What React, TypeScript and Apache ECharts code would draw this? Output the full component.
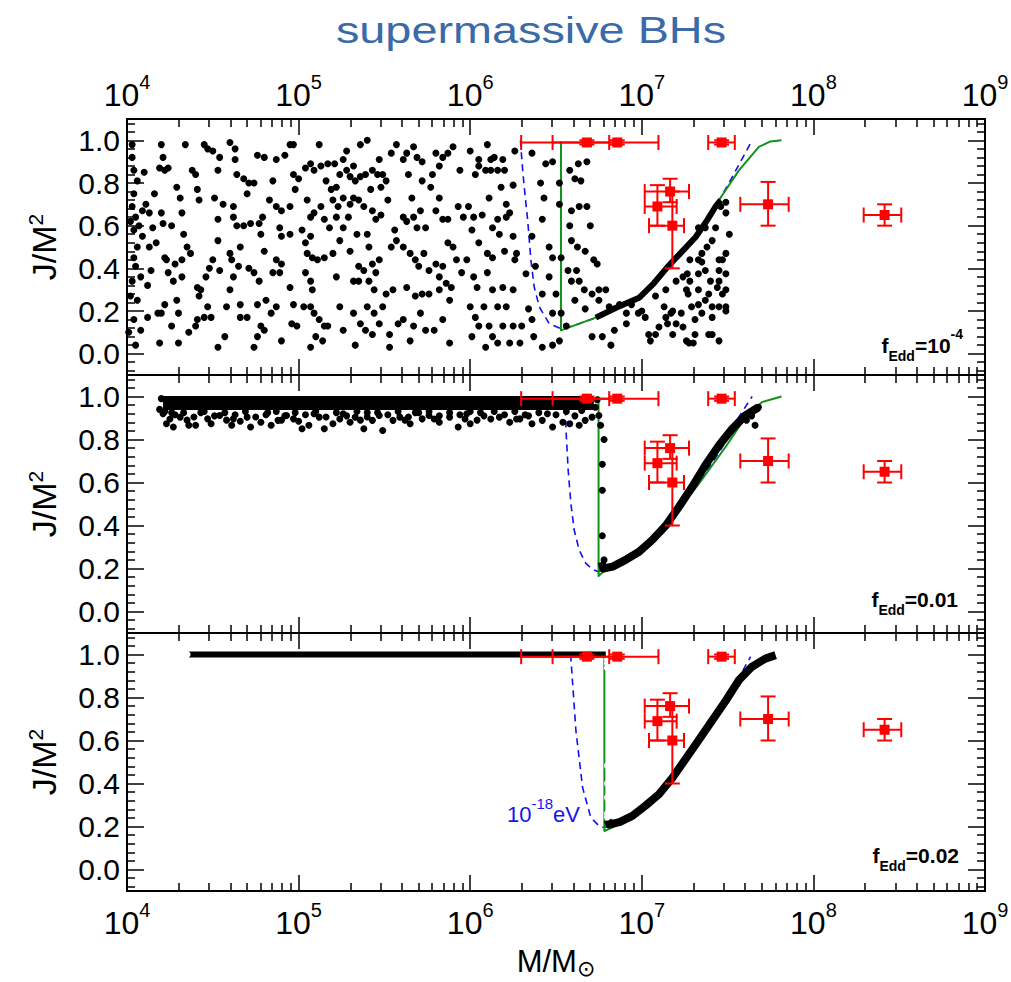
import React, { useEffect, useRef } from 'react';
import * as echarts from 'echarts';

const FONT = '"Liberation Sans", Arial, Helvetica, sans-serif';

// ---- axis ticks (x values are log10 of M/Msun) ----
const xDecades = [4, 5, 6, 7, 8, 9];
const yTickLabels = [0, 0.2, 0.4, 0.6, 0.8, 1.0];

// ---- panel 1 (fEdd = 1e-4): scattered black points [log10 M, J/M^2] ----
const topDots: number[][] = [
  [4.03,.98],[4.03,.92],[4.04,.86],[4.06,.81],[4.04,.75],[4.03,.69],[4.05,.64],[4.04,.58],[4.06,.50],[4.04,.45],[4.05,.41],[4.03,.34],[4.06,.25],[4.04,.16],[4.08,.11],[4.05,.04],[4.10,.85],[4.11,.70],[4.13,.66],[4.15,.59],[4.13,.50],[4.14,.39],[4.12,.17],[4.16,.75],[4.17,.52],[4.18,.19],[4.02,.62],[4.07,.60],[4.09,.67],[4.02,.27],[4.08,.36],[4.01,.10],[4.09,.55],[4.12,.32],
  [4.20,.98],[4.21,.92],[4.19,.87],[4.22,.86],[4.24,.87],[4.20,.66],[4.21,.61],[4.26,.60],[4.23,.44],[4.22,.45],[4.24,.38],[4.27,.34],[4.22,.23],[4.20,.19],[4.29,.25],[4.30,.19],[4.30,.05],[4.19,.05],[4.29,.78],[4.31,.73],[4.32,.66],[4.33,.56],[4.32,.44],[4.32,.36],[4.34,.98],[4.35,.50],[4.37,.47],[4.38,.86],[4.40,.84],[4.41,.77],[4.42,.72],[4.41,.31],[4.42,.27],[4.41,.16],[4.40,.13],[4.36,.10],[4.26,.13],[4.28,.42],
  [4.45,.98],[4.47,.96],[4.50,.95],[4.53,.86],[4.54,.92],[4.60,.99],[4.63,.96],[4.51,.73],[4.53,.63],[4.56,.70],[4.53,.53],[4.50,.44],[4.48,.40],[4.54,.39],[4.46,.36],[4.43,.30],[4.47,.22],[4.49,.17],[4.53,.03],[4.58,.22],[4.60,.30],[4.62,.36],[4.57,.08],[4.45,.17],[4.61,.44],[4.60,.47],[4.62,.64],
  [4.63,.91],[4.64,.84],[4.68,.82],[4.70,.75],[4.71,.80],[4.62,.69],[4.64,.60],[4.68,.60],[4.72,.61],[4.77,.61],[4.78,.56],[4.79,.64],[4.66,.50],[4.65,.41],[4.71,.40],[4.74,.38],[4.77,.34],[4.80,.48],[4.66,.23],[4.66,.17],[4.70,.17],[4.76,.23],[4.78,.13],[4.80,.11],[4.74,.03],[4.76,.08],[4.81,.25],[4.80,.92],[4.76,.93],[4.74,.80],
  [4.85,.81],[4.87,.91],[4.92,.93],[4.95,.98],[4.97,.98],[4.83,.72],[4.87,.69],[4.90,.67],[4.95,.69],[4.89,.59],[4.90,.55],[4.95,.56],[4.87,.44],[4.90,.42],[4.89,.38],[4.95,.31],[4.87,.22],[4.84,.19],[4.90,.06],[4.97,.23],[4.96,.14],[4.99,.13],[4.97,.84],[4.98,.77],[5.00,.82],[4.85,.38],
  [5.02,.58],[5.04,.52],[5.07,.55],[5.04,.87],[5.07,.89],[5.09,.86],[5.13,.88],[5.12,.98],[5.17,.89],[5.05,.72],[5.07,.64],[5.09,.66],[5.13,.69],[5.15,.63],[5.18,.59],[5.05,.47],[5.08,.45],[5.11,.44],[5.15,.45],[5.04,.38],[5.07,.34],[5.08,.30],[5.03,.22],[5.07,.22],[5.09,.19],[5.12,.16],[5.15,.13],[5.10,.08],[5.07,.03],[5.14,.06],[5.17,.13],[5.19,.77],[5.16,.81],
  [5.21,.89],[5.22,.78],[5.24,.84],[5.26,.91],[5.28,.86],[5.30,.83],[5.32,.88],[5.33,.81],[5.36,.98],[5.36,.83],[5.39,.84],[5.20,.72],[5.23,.69],[5.26,.73],[5.30,.70],[5.32,.73],[5.35,.72],[5.38,.69],[5.22,.64],[5.26,.59],[5.29,.64],[5.24,.53],[5.30,.48],[5.20,.47],[5.34,.56],[5.40,.56],[5.35,.41],[5.38,.39],[5.22,.36],[5.32,.34],[5.35,.34],[5.24,.22],[5.32,.19],[5.36,.14],[5.26,.11],[5.33,.04],[5.39,.11],[5.28,.95],[5.40,1.0],
  [5.43,.86],[5.46,.84],[5.47,.91],[5.49,.84],[5.51,.81],[5.54,.94],[5.57,.98],[5.42,.77],[5.48,.78],[5.52,.72],[5.43,.67],[5.45,.63],[5.48,.65],[5.56,.58],[5.57,.53],[5.54,.50],[5.41,.50],[5.43,.42],[5.45,.38],[5.47,.44],[5.41,.34],[5.44,.30],[5.51,.28],[5.55,.30],[5.40,.22],[5.44,.19],[5.49,.22],[5.47,.14],[5.43,.09],[5.53,.09],[5.53,.03],[5.58,.14],
  [5.61,.91],[5.63,.94],[5.67,.97],[5.69,.92],[5.72,.90],[5.64,.84],[5.66,.73],[5.61,.64],[5.63,.62],[5.67,.64],[5.69,.59],[5.74,.59],[5.71,.67],[5.72,.81],[5.61,.50],[5.65,.47],[5.68,.44],[5.70,.41],[5.73,.47],[5.76,.39],[5.63,.31],[5.68,.27],[5.72,.28],[5.61,.16],[5.67,.13],[5.71,.19],[5.74,.11],[5.65,.06],[5.76,.28],[5.77,.78],
  [5.80,.94],[5.84,.92],[5.87,.94],[5.90,.97],[5.82,.88],[5.78,.84],[5.82,.73],[5.80,.67],[5.84,.63],[5.87,.63],[5.87,.52],[5.90,.50],[5.80,.42],[5.84,.41],[5.82,.36],[5.86,.33],[5.89,.31],[5.82,.30],[5.88,.25],[5.84,.16],[5.79,.11],[5.88,.05],[5.92,.44],[5.95,.38],[5.93,.69],[5.96,.64],[5.94,.86],
  [6.00,.95],[6.03,.84],[6.05,.91],[6.10,.98],[6.12,.91],[6.14,.92],[6.05,.88],[6.09,.86],[6.12,.86],[6.16,.86],[5.99,.69],[6.02,.64],[6.07,.65],[6.11,.73],[6.13,.59],[6.16,.63],[6.01,.58],[6.05,.52],[6.10,.47],[6.13,.45],[5.98,.44],[6.02,.36],[6.04,.31],[6.10,.38],[6.13,.30],[6.00,.22],[6.03,.17],[6.08,.22],[6.11,.13],[6.13,.08],[6.16,.05],[6.16,.22],[6.05,.13],[6.09,.03],[6.01,.08],
  [6.19,.91],[6.26,.95],[6.20,.86],[6.18,.78],[6.25,.79],[6.21,.64],[6.17,.56],[6.25,.55],[6.20,.48],[6.27,.47],[6.19,.31],[6.25,.30],[6.21,.22],[6.19,.13],[6.25,.13],[6.23,.05],[6.30,.13],[6.29,.05],[6.36,.94],[6.44,.89],[6.48,.90],[6.41,.80],[6.43,.73],[6.42,.63],[6.36,.55],[6.46,.50],[6.48,.45],[6.38,.41],[6.46,.36],[6.42,.28],[6.50,.28],[6.48,.19],[6.36,.16],[6.42,.03],[6.48,.04],[6.52,.06],[6.37,.08],[6.34,.21],[6.325,.375],[6.52,.80],[6.52,.70],[6.53,.45],[6.53,.19],[6.23,.66],[6.21,.70],[6.26,.44],
  [6.58,.86],[6.63,.89],[6.68,.90],[6.61,.82],[6.645,.81],[6.59,.67],[6.635,.69],[6.68,.69],[6.58,.60],[6.70,.60],[6.59,.53],[6.625,.50],[6.67,.48],[6.72,.44],[6.74,.42],[6.57,.39],[6.62,.39],[6.59,.34],[6.635,.34],[6.665,.30],[6.71,.28],[6.75,.30],[6.61,.25],[6.67,.21],[6.75,.25],[6.79,.30],[6.71,.08],[6.56,.13],
  [6.81,.22],[6.84,.11],[6.82,.04],[6.87,.23],[6.91,.14],[6.98,.19],[7.02,.17],[7.08,.27],[7.08,.09],[7.05,.06],[7.13,.22],[7.14,.17],[7.18,.20],[7.20,.14],[7.24,.36],[7.23,.19],[7.26,.06],[7.28,.44],[7.27,.28],[7.30,.05],[7.33,.23],[7.35,.43],[7.37,.25],[7.40,.34],[7.41,.22],[7.39,.09],[7.45,.34],[7.45,.06],[7.47,.44],[7.49,.30],[7.49,.22],[7.45,.39],[7.33,.59],[7.37,.59],[7.43,.59],[7.49,.66],[7.49,.71],[7.46,.69],[7.14,.30],[7.20,.34],
  [6.77,.08],[6.91,.19],[6.94,.23],[7.00,.20],[7.04,.09],[7.10,.125],[7.15,.14],[7.17,.19],[7.26,.30],[7.265,.375],[7.28,.34],[7.29,.22],[7.31,.16],[7.33,.375],[7.33,.30],[7.35,.47],[7.37,.39],[7.39,.28],[7.41,.17],[7.44,.31],[7.45,.22],[7.47,.28],[7.49,.20],[7.49,.375],[7.45,.44],[7.35,.19],[7.31,.09],[7.24,.125],[7.18,.09],[7.275,.05],[7.41,.09],[7.33,.44],[7.38,.50],[7.41,.53],[7.49,.47],[7.51,.56]
];
// dense run of points along the evolution track, panel 1
const topTrack: number[][] = [[6.732,.169],[6.85,.215],[6.984,.262],[7.07,.33],[7.149,.406],[7.23,.475],[7.314,.547],[7.38,.625],[7.43,.69],[7.46,.72]];
const topGreen: number[][] = [[6.529,.995],[6.529,.109],[6.60,.13],[6.732,.169],[6.85,.215],[6.984,.262],[7.07,.33],[7.149,.406],[7.23,.475],[7.314,.547],[7.38,.63],[7.449,.719],[7.566,.859],[7.682,.969],[7.75,.995],[7.814,1.0]];
const topBlue: number[][] = [[6.293,1.0],[6.296,.96],[6.306,.86],[6.315,.78],[6.335,.625],[6.354,.4375],[6.373,.3125],[6.403,.219],[6.461,.14],[6.528,.117],[6.60,.13],[6.732,.169],[6.984,.262],[7.149,.406],[7.313,.547],[7.44,.703],[7.527,.828],[7.643,1.0]];

// ---- panel 2 (fEdd = 0.01) ----
const midBandCore: number[][] = [[4.21,.97],[6.72,.97]];
const midDots: number[][] = [
  [4.23,.873],[4.27,.858],[4.36,.866],[4.40,.866],[4.47,.896],[4.49,.873],[4.61,.866],[4.62,.896],[4.72,.858],[4.78,.88],[4.84,.866],[4.88,.889],[4.97,.896],[5.02,.85],[5.06,.866],[5.15,.85],[5.20,.873],[5.30,.88],[5.33,.904],[5.38,.85],[5.43,.889],[5.49,.842],[5.55,.889],[5.65,.873],[5.72,.896],[5.82,.88],[5.93,.858],[6.00,.873],
  [4.21,.92],[4.31,.904],[4.54,.912],[4.70,.904],[4.93,.912],[5.12,.904],[5.26,.92],[5.47,.912],[5.59,.904],[5.76,.912],[5.88,.904],[4.20,.99],[4.19,.94],[4.26,.925],[4.43,.925],[4.82,.925],[5.09,.92],[5.40,.925],[5.68,.925],[5.98,.92],[6.08,.91],
  [4.22,.93],[4.28,.915],[4.33,.925],[4.39,.905],[4.45,.93],[4.51,.91],[4.57,.925],[4.63,.915],[4.69,.93],[4.75,.905],[4.81,.915],[4.87,.93],[4.92,.91],[4.98,.925],[5.04,.915],[5.10,.93],[5.16,.905],[5.22,.925],[5.28,.91],[5.34,.93],[5.40,.905],[5.46,.925],[5.52,.915],[5.58,.93],[5.64,.905],[5.70,.925],[5.76,.93],[5.82,.91],[5.88,.925],[5.94,.915],[6.00,.93],[6.06,.925],[6.14,.93],[6.20,.915],[6.26,.93],[6.34,.91],[6.40,.925],[6.50,.915],[6.56,.93],
  [4.25,.895],[4.35,.89],[4.58,.89],[4.66,.885],[4.90,.89],[5.00,.885],[5.24,.895],[5.36,.89],[5.62,.89],[5.79,.895],[5.97,.895],[6.04,.89],[6.27,.895],
  [6.17,.904],[6.23,.88],[6.29,.896],[6.36,.873],[6.42,.889],[6.48,.858],[6.54,.88],[6.58,.873],[6.635,.866],[6.67,.889],[6.71,.904],[6.75,.912],[6.76,.866],[6.73,.95],[6.65,.935],[6.12,.895],[6.32,.915],[6.45,.92],[6.61,.91],[6.74,.985],[6.70,.975],
  [6.78,.80],[6.77,.685],[6.77,.564],[6.77,.352],[6.78,.24],[7.66,.866],[7.61,.89],[7.64,.91],[7.68,.95]
];
const midTrack: number[][] = [[6.765,.23],[6.775,.20],[6.83,.209],[6.906,.24],[6.984,.278],[7.06,.332],[7.14,.40],[7.217,.487],[7.294,.58],[7.37,.68],[7.45,.773],[7.527,.85],[7.604,.912],[7.68,.95]];
const midGreen: number[][] = [[6.748,1.0],[6.748,.165],[6.81,.209],[6.906,.24],[7.042,.323],[7.178,.44],[7.333,.595],[7.488,.765],[7.605,.904],[7.701,.974],[7.814,1.0]];
const midBlue: number[][] = [[6.553,1.0],[6.558,.85],[6.571,.657],[6.587,.50],[6.606,.379],[6.635,.286],[6.674,.224],[6.713,.196],[6.748,.185],[6.81,.209],[7.042,.323],[7.178,.44],[7.333,.595],[7.488,.788],[7.565,.904],[7.643,1.0]];

// ---- panel 3 (fEdd = 0.02) ----
const botFlat: number[][] = [[4.36,1.0],[6.79,1.0]];
const botRings: number[][] = [[4.35,1.0],[6.80,.977],[6.80,.958],[6.80,.937],[6.80,.483],[6.80,.40],[6.80,.335],[6.805,.33],[6.80,.26],[6.80,.244],[7.80,1.0],[7.84,1.0],[7.89,1.0]];
const botTrack: number[][] = [[6.80,.23],[6.81,.21],[6.87,.22],[6.945,.249],[7.02,.296],[7.10,.35],[7.18,.428],[7.255,.514],[7.33,.60],[7.41,.693],[7.49,.786],[7.565,.88],[7.64,.942],[7.72,.981],[7.78,.997]];
const botGreen: number[][] = [[6.782,1.0],[6.782,.179],[6.84,.20],[6.945,.245],[7.10,.35],[7.33,.60],[7.49,.785],[7.64,.94],[7.78,.997]];
const botBlue: number[][] = [[6.585,1.0],[6.587,.98],[6.616,.646],[6.655,.381],[6.703,.241],[6.752,.202],[6.782,.195],[6.87,.22],[7.02,.30],[7.18,.43],[7.33,.60],[7.459,.74],[7.55,.87],[7.634,.99]];

// ---- observed SMBH spins (same in every panel) ----
const redLogM = [6.68, 6.857, 7.465, 7.165, 7.091, 7.178, 7.736, 8.415];
const redJ = [0.99, 0.99, 0.99, 0.76, 0.69, 0.60, 0.70, 0.65];
const redLogMLo = [6.297, 6.48, 7.387, 7.017, 7.017, 7.042, 7.574, 8.293];
const redLogMHi = [6.81, 7.097, 7.542, 7.275, 7.203, 7.246, 7.856, 8.512];
const redJLo = [0.98, 0.98, 0.98, 0.71, 0.60, 0.40, 0.60, 0.60];
const redJHi = [1.0, 1.0, 1.0, 0.82, 0.79, 0.76, 0.805, 0.70];

const panelLabels = [
  '{f|f}{sub|Edd}{f|=10}{sup|-4}',
  '{f|f}{sub|Edd}{f|=0.01}',
  '{f|f}{sub|Edd}{f|=0.02}',
];

const xMinor: number[] = [];
for (let n = 4; n < 9; n++) for (let k = 2; k <= 9; k++) xMinor.push(n + Math.log10(k));
const yMinor: number[] = [];
for (let i = -2; i <= 27; i++) if (i % 5 !== 0) yMinor.push(Math.round(i * 4) / 100);

const GRIDS = [
  { left: 127, width: 858, top: 119, height: 256 },
  { left: 127, width: 858, top: 375, height: 258 },
  { left: 127, width: 858, top: 633, height: 258 },
];

const xRich = {
  b: { fontSize: 32, lineHeight: 46, fontFamily: FONT, color: '#000' },
  s: { fontSize: 20, lineHeight: 19, verticalAlign: 'top', fontFamily: FONT, color: '#000' },
};

function buildOption() {
  const xAxis: any[] = [];
  const yAxis: any[] = [];
  const tickLine = { color: '#000', width: 1.5 };
  GRIDS.forEach((_, g) => {
    const cx = { type: 'value', min: xDecades[0], max: xDecades[xDecades.length - 1], gridIndex: g, splitLine: { show: false } };
    const majorX = (pos: string, show: boolean, margin: number) => ({
      ...cx, position: pos, interval: 1,
      axisLine: { show: true, onZero: false, lineStyle: { color: '#000', width: 2 } },
      axisTick: { show: true, inside: true, length: 16, lineStyle: tickLine },
      axisLabel: { show, margin, formatter: (v: number) => `{b|10}{s|${Math.round(v)}}`, rich: xRich },
    });
    const minorX = (pos: string) => ({
      ...cx, position: pos,
      axisLine: { show: false, onZero: false },
      axisTick: { show: true, inside: true, length: 8, customValues: xMinor, lineStyle: tickLine },
      axisLabel: { show: false },
    });
    const bottomMajor: any = majorX('bottom', g === 2, 9);
    if (g === 2) {
      bottomMajor.name = '{a|M/M}{b|⊙}';
      bottomMajor.nameLocation = 'middle';
      bottomMajor.nameGap = 52;
      bottomMajor.nameMoveOverlap = false;
      bottomMajor.nameTextStyle = {
        rich: {
          a: { fontSize: 31, lineHeight: 36, fontFamily: FONT, color: '#000' },
          b: { fontSize: 22, lineHeight: 22, verticalAlign: 'bottom', fontFamily: '"DejaVu Sans", sans-serif', color: '#000' },
        },
      };
    }
    xAxis.push(bottomMajor, minorX('bottom'), majorX('top', g === 0, 1), minorX('top'));

    const cy = { type: 'value', min: -0.1, max: 1.1, gridIndex: g, splitLine: { show: false } };
    const majorY = (pos: string, show: boolean) => ({
      ...cy, position: pos,
      axisLine: { show: true, onZero: false, lineStyle: { color: '#000', width: 2 } },
      axisTick: { show: true, inside: true, length: 17, customValues: yTickLabels, lineStyle: tickLine },
      axisLabel: { show, margin: 7, customValues: yTickLabels, formatter: (v: number) => v.toFixed(1), fontSize: 30, fontFamily: FONT, color: '#000' },
    });
    const minorY = (pos: string) => ({
      ...cy, position: pos,
      axisLine: { show: false, onZero: false },
      axisTick: { show: true, inside: true, length: 8, customValues: yMinor, lineStyle: tickLine },
      axisLabel: { show: false },
    });
    const leftMajor: any = majorY('left', true);
    leftMajor.name = '{a|J/M}{s|2}';
    leftMajor.nameLocation = 'middle';
    leftMajor.nameGap = 64;
    leftMajor.nameRotate = 90;
    leftMajor.nameMoveOverlap = false;
    leftMajor.nameTextStyle = {
      rich: {
        a: { fontSize: 34, lineHeight: 38, fontFamily: FONT, color: '#000' },
        s: { fontSize: 21, lineHeight: 18, verticalAlign: 'top', fontFamily: FONT, color: '#000' },
      },
    };
    yAxis.push(leftMajor, minorY('left'), majorY('right', false), minorY('right'));
  });

  const GREEN = '#12921a';
  const BLUE = '#1010f0';
  const series: any[] = [];
  const line = (g: number, data: number[][], color: string, width: number, z: number, dashed = false) => ({
    type: 'line', xAxisIndex: 4 * g, yAxisIndex: 4 * g, data, symbol: 'none', silent: true, z,
    lineStyle: { color, width, type: dashed ? [7, 5] : 'solid', cap: 'butt', join: 'round' },
  });
  const dots = (g: number, data: number[][], size: number, z: number, ring = false) => ({
    type: 'scatter', xAxisIndex: 4 * g, yAxisIndex: 4 * g, data, silent: true, z,
    symbol: ring ? 'emptyCircle' : 'circle', symbolSize: size,
    itemStyle: ring ? { color: '#fff', borderColor: '#000', borderWidth: 1.2, opacity: 1 } : { color: '#000', opacity: 1 },
  });
  const red = (g: number) => ({
    type: 'custom', xAxisIndex: 4 * g, yAxisIndex: 4 * g, silent: true, z: 10,
    data: redLogM.map((m, i) => [m, redJ[i], redLogMLo[i], redLogMHi[i], redJLo[i], redJHi[i]]),
    renderItem: (_p: any, api: any) => {
      const x = api.value(0), y = api.value(1);
      const p = api.coord([x, y]);
      const pl = api.coord([api.value(2), y]);
      const ph = api.coord([api.value(3), y]);
      const pb = api.coord([x, api.value(4)]);
      const pt = api.coord([x, api.value(5)]);
      const st = { stroke: '#ff0000', lineWidth: 2 };
      const c = 7.5;
      const ln = (x1: number, y1: number, x2: number, y2: number) => ({ type: 'line', shape: { x1, y1, x2, y2 }, style: st });
      return {
        type: 'group',
        children: [
          ln(pl[0], p[1], ph[0], p[1]),
          ln(p[0], pb[1], p[0], pt[1]),
          ln(pl[0], p[1] - c, pl[0], p[1] + c),
          ln(ph[0], p[1] - c, ph[0], p[1] + c),
          ln(p[0] - c, pb[1], p[0] + c, pb[1]),
          ln(p[0] - c, pt[1], p[0] + c, pt[1]),
          { type: 'rect', shape: { x: p[0] - 5, y: p[1] - 5, width: 10, height: 10 }, style: { fill: '#ff0000' } },
        ],
      };
    },
  });

  // panel 1
  series.push(line(0, topBlue, BLUE, 1.6, 2, true), line(0, topGreen, GREEN, 2, 3), dots(0, topDots, 7, 4), line(0, topTrack, '#000', 6, 5), red(0));
  // panel 2
  series.push(line(1, midBlue, BLUE, 1.6, 2, true), line(1, midGreen, GREEN, 2, 3), line(1, midBandCore, '#000', 14, 4), dots(1, midDots, 7, 4), line(1, midTrack, '#000', 8, 5), red(1));
  // panel 3
  series.push(line(2, botBlue, BLUE, 1.6, 2, true), line(2, botGreen, GREEN, 2, 3), line(2, botFlat, '#000', 6, 4), line(2, botTrack, '#000', 8, 5), dots(2, botRings, 5, 6, true), red(2));

  const fRich = {
    f: { fill: '#000', fontSize: 21, fontWeight: 'bold', lineHeight: 36, fontFamily: FONT },
    sub: { fill: '#000', fontSize: 14, fontWeight: 'bold', lineHeight: 14, verticalAlign: 'bottom', fontFamily: FONT },
    sup: { fill: '#000', fontSize: 14, fontWeight: 'bold', lineHeight: 14, verticalAlign: 'top', fontFamily: FONT },
  };
  const labelPos = [[963, 345], [958, 599], [959, 855]];
  const graphic: any[] = [
    {
      type: 'text', x: 531, y: 30, scaleX: 1.3, silent: true,
      style: { text: 'supermassive BHs', fill: '#3a6aa7', fontSize: 36, fontFamily: FONT, align: 'center', verticalAlign: 'middle' },
    },
    {
      type: 'text', x: 580, y: 814, silent: true, z: 20,
      style: {
        text: '{b|10}{s|-18}{b|eV}', align: 'right', verticalAlign: 'middle',
        rich: {
          b: { fill: '#1515ee', fontSize: 22, lineHeight: 36, fontFamily: FONT },
          s: { fill: '#1515ee', fontSize: 15, lineHeight: 15, verticalAlign: 'top', fontFamily: FONT },
        },
      },
    },
  ];
  panelLabels.forEach((t, i) => {
    graphic.push({
      type: 'text', x: labelPos[i][0], y: labelPos[i][1], silent: true, z: 20,
      style: { text: t, rich: fRich, align: 'right', verticalAlign: 'middle' },
    });
  });

  return {
    animation: false,
    backgroundColor: '#fff',
    grid: GRIDS.map((g) => ({ ...g, containLabel: false, outerBoundsMode: 'none' })),
    xAxis,
    yAxis,
    series,
    graphic,
  };
}

export default function App() {
  const ref = useRef<HTMLDivElement>(null);
  useEffect(() => {
    if (!ref.current) return;
    const chart = echarts.init(ref.current, null, { renderer: 'svg' });
    chart.setOption(buildOption() as any);
    return () => chart.dispose();
  }, []);
  return <div ref={ref} style={{ position: 'fixed', left: 0, top: 0, width: 1011, height: 982, background: '#fff' }} />;
}
